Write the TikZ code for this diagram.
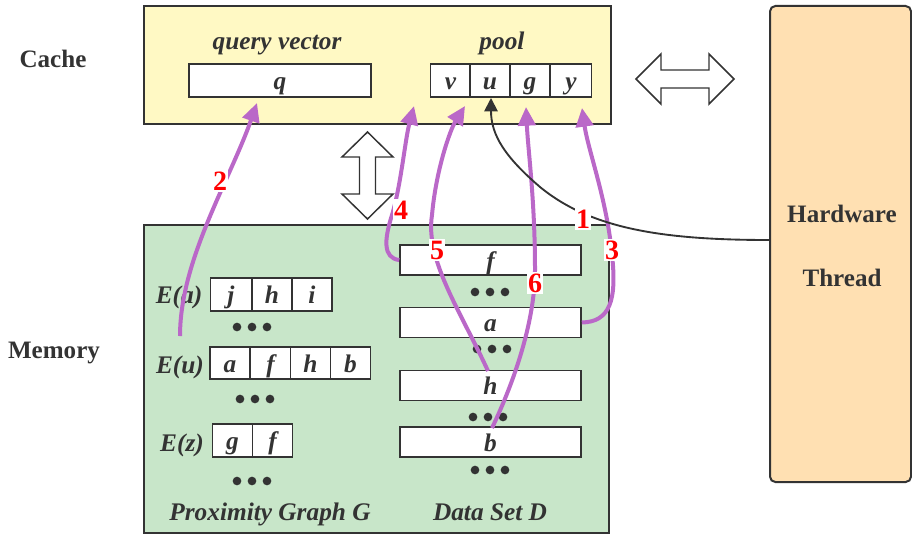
\documentclass[tikz,border=0pt]{standalone}
\usepackage{fontspec}
\setmainfont{Liberation Serif}
\usetikzlibrary{arrows.meta,fit}
\definecolor{linec}{HTML}{333333}
\definecolor{cachef}{HTML}{FFF9C4}
\definecolor{memf}{HTML}{C8E6C9}
\definecolor{hwf}{HTML}{FFE0B2}
\definecolor{purp}{HTML}{BA68C8}
\newcommand\threedots[3]{\foreach \k/\n in {-1/a,0/b,1/c}{\node[dot] (#1\n) at ({#2+15*\k},#3) {};}}
\begin{document}
\begin{tikzpicture}[x=0.75pt,y=-0.75pt,
  every node/.style={text=linec},
  area/.style={draw=linec, line width=1.5pt, inner sep=0pt},
  cell/.style={draw=linec, fill=white, line width=1.2pt, minimum width=30pt, minimum height=24pt, inner sep=0pt, text height=14pt, text depth=0pt, font=\fontsize{19}{22}\selectfont\bfseries\itshape},
  lab/.style={anchor=base, font=\fontsize{19}{22}\selectfont\bfseries\itshape},
  side/.style={anchor=base, font=\fontsize{18.8}{22}\selectfont\bfseries},
  dot/.style={circle, fill=linec, inner sep=0pt, minimum size=6.5pt},
  num/.style={fill=white, text=red, inner sep=1pt, font=\fontsize{21}{22}\selectfont\bfseries},
  walk/.style={draw=purp, line width=3pt, -{Triangle[length=14pt,width=13pt]}},
  ctrl/.style={draw=linec, line width=1.4pt, -{Triangle[length=10pt,width=10pt]}},
  hollow/.style={draw=linec, fill=white, line width=1.1pt, line join=miter}
]
\useasboundingbox (0,0) rectangle (912,535);

% areas
\node[area, fill=cachef, fit={(144,6)(611,124)}] (cache) {};
\node[area, fill=memf, fit={(144,225)(609,533)}] (mem) {};
\node[area, fill=hwf, rounded corners=4pt, fit={(770,6)(911,482)}] (hw) {};

% side labels
\node[side] (lcache) at (53,67) {Cache};
\node[side] (lmem) at (54,358) {Memory};
\node[side] (lhw1) at (842,222) {Hardware};
\node[side] (lhw2) at (842,286) {Thread};

% hollow double arrows
\draw[hollow] (636,79) -- (661,54) -- (661,70) -- (709,70) -- (709,54) -- (734,79) -- (709,104) -- (709,88) -- (661,88) -- (661,104) -- cycle;
\draw[hollow] (367.5,132) -- (393,157) -- (375.5,157) -- (375.5,194) -- (393,194) -- (367.5,219) -- (342,194) -- (359.5,194) -- (359.5,157) -- (342,157) -- cycle;

% cache contents
\node[lab] (lq) at (277,50) {query vector};
\node[lab] (lpool) at (502,50) {pool};
\node[cell, minimum width=136.5pt, minimum height=24.75pt] (q) at (280,80.5) {q};
\node[cell, minimum height=24.75pt] (pv) at (450.5,80.5) {v};
\node[cell, minimum height=24.75pt] (pu) at (490,80.5) {u};
\node[cell, minimum height=24.75pt] (pg) at (530,80.5) {g};
\node[cell, minimum height=24.75pt, minimum width=31pt] (py) at (571,80.5) {y};

% proximity graph
\node[lab] (lEa) at (179,303) {E(a)};
\node[cell, minimum width=31pt, minimum height=24.75pt] (ea1) at (231,294.5) {j};
\node[cell, minimum width=30pt, minimum height=24.75pt] (ea2) at (272,294.5) {h};
\node[cell, minimum width=30pt, minimum height=24.75pt] (ea3) at (312,294.5) {i};
\threedots{dEa}{252}{327}

\node[lab] (lEu) at (180,373) {E(u)};
\node[cell] (eu1) at (230,363) {a};
\node[cell] (eu2) at (270.5,363) {f};
\node[cell] (eu3) at (310.5,363) {h};
\node[cell] (eu4) at (350.5,363) {b};
\threedots{dEu}{255}{399}

\node[lab] (lEz) at (182,451) {E(z)};
\node[cell, minimum height=24.75pt] (ez1) at (232.5,440.5) {g};
\node[cell, minimum height=24.75pt] (ez2) at (272.5,440.5) {f};
\threedots{dEz}{252}{481}

\node[lab] (lG) at (270,520) {Proximity Graph G};

% data set
\node[cell, minimum width=135.75pt, minimum height=22.5pt] (df) at (490.5,260) {f};
\threedots{dDf}{490}{292}
\node[cell, minimum width=135.75pt, minimum height=22.5pt] (da) at (490.5,322.5) {a};
\threedots{dDa}{492}{349}
\node[cell, minimum width=135.75pt, minimum height=22.5pt] (dh) at (490.5,385.5) {h};
\threedots{dDh}{488}{417}
\node[cell, minimum width=135.75pt, minimum height=22.5pt] (db) at (490.5,442) {b};
\threedots{dDb}{490}{470}
\node[lab] (lD) at (490,520) {Data Set D};

% arrow ends
\coordinate (s2) at (180,336);
\coordinate (t2) at (257,103);
\coordinate (t4) at (414,106);
\coordinate (s5) at (488,371);
\coordinate (t5) at (465,106);
\coordinate (s6) at (492,428);
\coordinate (t6) at (526,107);
\coordinate (t3) at (582,108);
\coordinate (s1) at (hw.west |- 0,240);
\coordinate (t1) at (491,98);

% walk arrows
\draw[walk] (s2) .. controls (180,260) and (230,180) .. (t2);
\draw[walk] (df.west) .. controls (383,258) and (384,240) .. (392,215) .. controls (401,185) and (405,140) .. (t4);
\draw[walk] (s5) .. controls (460,310) and (425,260) .. (432,215) .. controls (436,170) and (450,130) .. (t5);
\draw[walk] (s6) .. controls (515,380) and (535,320) .. (535,270) .. controls (535,200) and (528,150) .. (t6);
\draw[walk] (da.east) .. controls (610,322) and (617,300) .. (612,255) .. controls (607,200) and (588,150) .. (t3);
\draw[ctrl] (s1) .. controls (660,240) and (590,228) .. (540,187) .. controls (505,157) and (491,135) .. (t1);

% step numbers
\node[num] (n1) at (583,219) {1};
\node[num] (n2) at (220,181) {2};
\node[num] (n3) at (612,250) {3};
\node[num] (n4) at (401,210) {4};
\node[num] (n5) at (437,250) {5};
\node[num] (n6) at (535,283) {6};
\end{tikzpicture}
\end{document}
